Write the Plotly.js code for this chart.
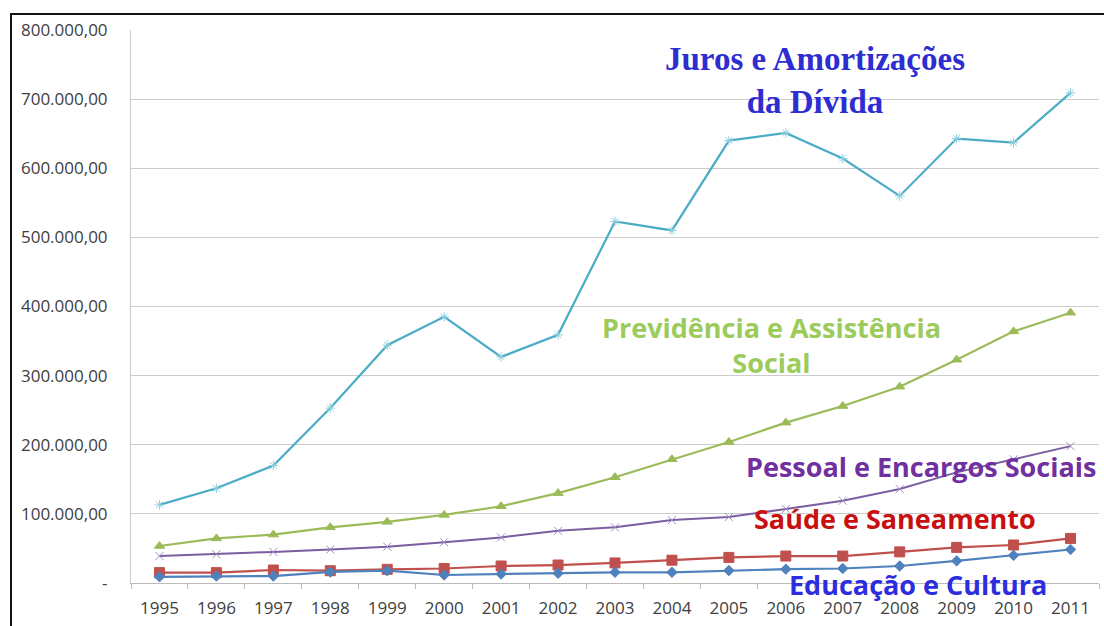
<!DOCTYPE html>
<html>
<head>
<meta charset="utf-8">
<script src="https://cdn.plot.ly/plotly-3.0.1.min.js"></script>
<style>
html,body{margin:0;padding:0;background:#fff;}
#wrap{position:relative;width:1104px;height:626px;overflow:hidden;}
#chart{width:1104px;height:626px;}
#frame{position:absolute;left:10px;top:13px;width:1200px;height:700px;border-left:2px solid #111;border-top:2px solid #111;pointer-events:none;}
</style>
</head>
<body>
<div id="wrap"><div id="chart"></div><div id="frame"></div></div>
<script>
const years = ["1995","1996","1997","1998","1999","2000","2001","2002","2003","2004","2005","2006","2007","2008","2009","2010","2011"];
const juros = [113000,137000,170000,253000,344000,385000,327000,359000,523000,510000,640000,651000,614000,560000,643000,637000,709000];
const previdencia = [53500,64500,70000,80500,88500,98500,111000,130000,153000,179000,204000,232000,256000,284000,323000,364000,391000];
const pessoal = [39000,41500,45000,48500,52500,59000,66000,75500,80500,91000,95500,107000,119000,136000,160000,179000,198000];
const saude = [15000,15000,18800,17800,19800,21000,24600,26000,29000,33000,37000,39000,39000,45000,51500,55000,64500];
const educacao = [9000,10000,10000,16000,17800,11600,13000,14000,15500,15500,18000,20000,21000,24600,32000,40000,48500];
const yTickVals = [0,100000,200000,300000,400000,500000,600000,700000,800000];
const yTickText = ["-","100.000,00","200.000,00","300.000,00","400.000,00","500.000,00","600.000,00","700.000,00","800.000,00"];

function tr(y, color, symbol, size, mcolor, lw){
  return {x: years, y: y, type:'scatter', mode:'lines+markers',
    line:{color:color, width:lw||2.2},
    marker:{symbol:symbol, size:size, color:mcolor||color, line:{color:mcolor||color, width:1}},
    cliponaxis:false, hoverinfo:'skip'};
}
const data = [
  tr(juros, '#4BACC6', 'asterisk-open', 8, '#8fd0e0', 2.2),
  tr(previdencia, '#9BBB59', 'triangle-up', 9),
  tr(pessoal, '#7A5EA0', 'x-thin-open', 8, '#a08cc4', 2),
  tr(saude, '#C0504D', 'square', 10),
  tr(educacao, '#4F81BD', 'diamond', 8)
];
const layout = {
  width:1104, height:626,
  margin:{l:131, r:5, t:30, b:43},
  paper_bgcolor:'#fff', plot_bgcolor:'#fff',
  showlegend:false,
  font:{family:'"Open Sans", sans-serif', color:'#404040'},
  xaxis:{type:'category', range:[-0.5, 16.5], autorange:false, tickson:'boundaries', ticks:'outside', ticklen:5, tickcolor:'#bbbbbb',
    showgrid:false, showline:true, linecolor:'#bbbbbb', linewidth:1,
    tickfont:{size:17, color:'#404040'}, ticklabelstandoff:10, zeroline:false},
  yaxis:{range:[0,800000], tickvals:yTickVals, ticktext:yTickText, showgrid:true, gridcolor:'#cccccc', gridwidth:1,
    showline:true, linecolor:'#cccccc', zeroline:false, ticks:'',
    tickfont:{size:17, color:'#404040'}, ticklabelstandoff:19},
  annotations:[
    {xref:'paper', yref:'paper', x:0.707, y:0.909, xanchor:'center', yanchor:'middle', showarrow:false,
     text:'<b>Juros e Amortizações<br>da Dívida</b>', align:'center',
     font:{family:'"Liberation Serif", serif', size:33, color:'#2d2dd2'}},
    {xref:'paper', yref:'paper', x:0.662, y:0.430, xanchor:'center', yanchor:'middle', showarrow:false,
     text:'<b>Previdência e Assistência<br>Social</b>', align:'center',
     font:{family:'"Open Sans", sans-serif', size:27, color:'#9bcb5a'}},
    {xref:'paper', yref:'paper', x:0.816, y:0.210, xanchor:'center', yanchor:'middle', showarrow:false,
     text:'<b>Pessoal e Encargos Sociais</b>',
     font:{family:'"Open Sans", sans-serif', size:27, color:'#7030a0'}},
    {xref:'paper', yref:'paper', x:0.789, y:0.116, xanchor:'center', yanchor:'middle', showarrow:false,
     text:'<b>Saúde e Saneamento</b>',
     font:{family:'"Open Sans", sans-serif', size:27, color:'#c81010'}},
    {xref:'paper', yref:'paper', x:0.813, y:-0.002, xanchor:'center', yanchor:'middle', showarrow:false,
     text:'<b>Educação e Cultura</b>',
     font:{family:'"Open Sans", sans-serif', size:27, color:'#2d2de0'}}
  ]
};
Plotly.newPlot('chart', data, layout, {displayModeBar:false, staticPlot:true});
</script>
</body>
</html>
